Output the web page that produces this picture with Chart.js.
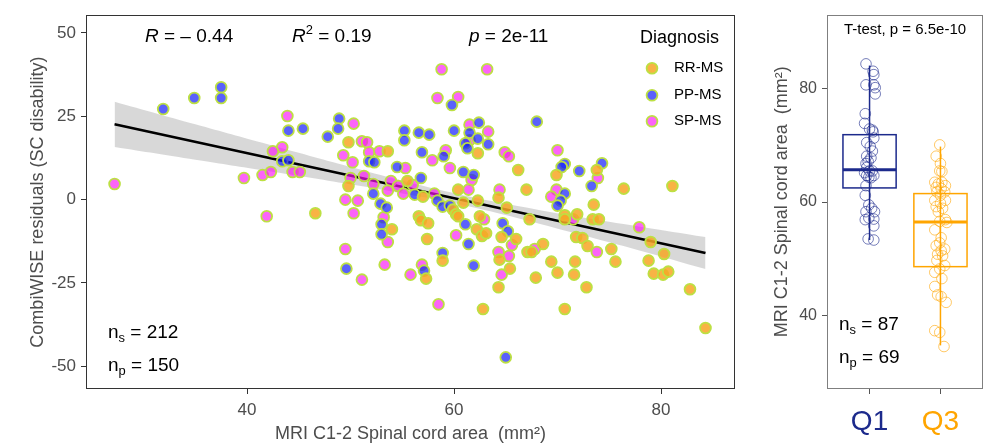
<!DOCTYPE html>
<html><head><meta charset="utf-8">
<script src="https://cdn.jsdelivr.net/npm/chart.js@4.4.1/dist/chart.umd.min.js"></script>
<style>
html,body{margin:0;padding:0;background:#fff;}
#wrap{position:relative;width:996px;height:448px;overflow:hidden;}
#c1{position:absolute;left:0;top:0;}
#c2{position:absolute;left:750px;top:0;}
</style></head><body>
<div id="wrap"><canvas id="c1" width="745" height="448"></canvas><canvas id="c2" width="246" height="448"></canvas></div>
<script>
// ---------- DATA: left scatter (x = C1-2 area mm², y = CombiWISE residual) ----------
const rrmsX = [46.6,49.8,53.6,49.8,54.0,62.3,55.5,57.0,59.9,60.2,60.4,60.9,62.3,64.3,65.1,56.6,56.8,57.5,62.5,62.2,62.7,63.1,57.4,64.6,66.0,64.4,65.4,64.3,58.9,57.3,62.8,69.9,73.8,66.2,67.0,76.4,73.5,67.3,70.7,71.9,70.7,73.4,74.0,71.8,72.4,72.9,75.2,75.6,68.6,67.1,67.5,69.4,71.7,70.0,71.6,67.9,72.8,70.7,81.1,79.0,80.3,78.8,79.3,80.2,80.7,82.8,84.3,60.4];
const rrmsY = [-4.1,17.2,14.5,4.1,-8.9,13.9,5.6,0.9,-3.0,-4.4,3.0,-0.9,-0.3,0.6,-2.4,-5.0,-6.2,-7.1,-5.0,-8.9,-10.9,-10.1,-11.8,-11.2,-11.8,-18.0,-20.7,-26.3,-18.3,-23.7,-32.8,7.4,8.9,8.9,3.0,3.3,-1.5,-5.9,-4.7,-4.4,-5.9,-5.9,-5.9,-11.2,-11.5,-13.9,-14.8,-18.6,-13.3,-15.7,-15.7,-18.6,-18.6,-21.9,-22.5,-23.4,-26.3,-32.8,4.1,-12.7,-16.3,-18.3,-22.2,-22.5,-21.6,-26.9,-38.5,-5.0];
const ppmsX = [31.9,34.9,37.5,37.5,43.4,44.0,44.0,45.4,48.9,48.8,47.8,51.8,52.3,52.2,52.9,53.5,53.0,53.0,49.6,59.8,55.2,55.2,56.6,57.6,60.0,62.4,61.5,61.1,62.3,63.3,61.3,56.9,59.0,60.9,61.9,54.5,56.8,56.2,58.4,58.9,59.6,61.1,61.4,64.7,65.2,58.9,61.9,57.1,65.0,68.0,70.7,70.4,72.1,74.3,73.3,70.7,70.3,70.0];
const ppmsY = [27.2,30.5,33.7,30.5,11.5,11.8,20.7,21.3,24.3,21.3,18.9,11.5,11.2,1.8,-1.2,-2.4,-7.4,-10.4,-20.7,28.4,20.7,17.8,20.1,19.5,20.7,23.1,20.1,16.9,18.3,16.6,15.4,14.2,13.0,8.3,7.4,9.8,6.5,1.5,-0.3,-2.1,-1.8,-7.4,-13.3,-7.1,-9.5,-16.0,-19.8,-21.3,-47.3,23.4,10.7,9.8,8.6,10.9,4.1,1.8,-0.3,-1.8];
const spmsX = [27.2,39.7,41.5,42.3,41.9,43.4,42.5,44.4,45.1,43.9,50.3,51.1,51.6,49.3,50.2,51.8,52.8,51.3,50.0,52.2,53.9,49.5,50.7,50.3,53.2,53.6,49.5,53.3,51.1,53.6,58.4,60.4,58.8,63.2,61.5,63.3,61.5,59.2,57.9,59.6,64.9,65.3,61.7,55.3,54.6,55.1,56.0,58.1,61.4,64.4,62.9,60.2,65.6,64.3,65.3,64.6,56.9,55.8,58.5,70.0,73.9,69.9,69.4,71.5,77.9,73.8,67.8];
const spmsY = [4.7,6.5,7.4,8.3,-5.0,15.7,14.5,8.3,8.3,25.1,22.8,17.5,17.2,13.3,11.2,14.2,14.5,7.1,6.5,4.7,5.6,0.0,-0.3,-4.1,-5.3,-12.7,-14.8,-19.5,-24.0,2.7,30.5,30.8,39.1,39.1,22.5,20.4,17.8,14.8,11.8,9.5,14.2,13.0,5.9,9.5,4.1,1.8,4.4,1.8,3.0,3.0,-5.9,-10.7,-13.6,-15.7,-16.9,-22.5,-19.5,-22.5,-31.4,14.8,6.5,3.0,0.9,-5.9,-8.3,-15.7,-14.8];
// regression fit and its confidence band
const fitX = [27.2, 84.3];
const fitY = [22.6, -16.0];
const bandX = [27.2, 35, 42, 50, 56, 61, 66, 72, 78, 84.3];
const bandHi = [29.4, 22.6, 16.6, 9.8, 4.9, 1.25, -1.8, -5.1, -8.1, -11.2];
const bandLo = [15.8, 12.0, 8.6, 4.6, 1.3, -1.75, -5.4, -10.3, -15.3, -20.8];
const xTicks = [40, 60, 80];
const yTicks = [-50, -25, 0, 25, 50];
const diagnosisLabels = ['RR-MS', 'PP-MS', 'SP-MS'];

// ---------- DATA: right box plot ----------
const groupLabels = ['Q1', 'Q3'];
const groupPos = [1, 2];
const q1PtsX = [0.95,1.05,1.06,0.95,1.06,1.08,1.08,0.94,0.93,1.00,1.04,1.05,1.06,0.96,1.01,1.04,0.96,1.02,0.98,0.95,0.96,1.00,1.04,0.93,0.96,1.06,0.99,1.02,0.95,0.94,0.99,1.03,0.95,1.07,0.99,1.06,0.94,1.06,0.98,1.06];
const q1PtsY = [84.4,83.1,82.5,80.7,80.7,80.2,79.1,75.6,73.9,72.9,72.7,72.4,71.3,70.5,69.8,69.0,68.1,67.8,67.2,66.8,66.1,65.5,65.5,65.2,64.7,64.7,64.4,64.3,62.9,61.2,59.5,58.9,58.3,58.3,57.2,57.0,56.9,55.8,53.5,53.3];
const q3PtsX = [1.99,1.94,2.00,1.99,2.02,1.92,1.97,2.02,2.07,1.94,2.01,1.95,2.06,2.00,1.92,2.07,2.00,1.94,2.03,1.97,2.07,1.99,2.09,1.92,2.01,1.99,1.94,2.06,2.01,1.96,2.03,1.95,2.06,1.99,1.92,2.02,1.92,1.96,2.01,2.08,1.92,1.99,2.05];
const q3PtsY = [70.1,68.1,66.8,65.5,65.4,63.5,63.2,63.5,62.9,62.6,62.4,61.8,61.8,61.2,60.3,60.3,59.8,59.2,58.9,58.3,56.9,56.6,56.4,55.1,53.7,52.8,52.3,51.7,51.4,50.8,50.5,49.7,48.8,48.2,47.6,46.5,45.1,43.6,43.3,42.3,37.3,37.0,34.5];
const boxLow = [53.3, 34.7];
const boxQ1 = [62.5, 48.6];
const boxMed = [65.7, 56.5];
const boxQ3 = [71.9, 61.5];
const boxHigh = [84.1, 69.8];
const yTicksR = [40, 60, 80];

// ---------- styling ----------
const FONT = "'Liberation Sans', Arial, Helvetica, sans-serif";
const GREY = '#4d4d4d';
const NAVY = '#1c2a8c';
const ORANGE = '#ffa500';
const RIM = '#bde043';
const FILLS = ['rgba(247,166,38,0.86)', 'rgba(20,30,250,0.70)', 'rgba(250,20,245,0.66)'];

const zip = (xs, ys) => xs.map((x, i) => ({x, y: ys[i]}));

function drawRich(ctx, x, y, segs, size, align) {
  const parts = segs.map(s => {
    const fs = (s.sup || s.sub) ? size * 0.68 : size;
    const font = (s.italic ? 'italic ' : '') + fs + 'px ' + FONT;
    ctx.font = font;
    return {s, font, w: ctx.measureText(s.t).width, dy: s.sup ? -size * 0.38 : (s.sub ? size * 0.28 : 0)};
  });
  const total = parts.reduce((a, p) => a + p.w, 0);
  let cx = align === 'center' ? x - total / 2 : x;
  ctx.textAlign = 'left';
  ctx.textBaseline = 'middle';
  for (const p of parts) {
    ctx.font = p.font;
    ctx.fillText(p.s.t, cx, y + p.dy);
    cx += p.w;
  }
}

const framePlugin = {
  id: 'frame',
  afterDraw(chart, args, opts) {
    const {ctx, chartArea: a} = chart;
    ctx.save();
    ctx.strokeStyle = opts.color;
    ctx.lineWidth = 1;
    ctx.strokeRect(Math.round(a.left) + 0.5, Math.round(a.top) + 0.5, Math.round(a.right - a.left) - 1, Math.round(a.bottom - a.top) - 1);
    ctx.restore();
  }
};

const leftText = {
  id: 'leftText',
  afterDraw(chart) {
    const {ctx, chartArea: a} = chart;
    ctx.save();
    ctx.fillStyle = '#000';
    const S = 19;
    drawRich(ctx, a.left + 59, a.top + 22, [{t: 'R', italic: true}, {t: ' = \u2013 0.44'}], S);
    drawRich(ctx, a.left + 206, a.top + 22, [{t: 'R', italic: true}, {t: '2', sup: true}, {t: ' = 0.19'}], S);
    drawRich(ctx, a.left + 383, a.top + 22, [{t: 'p', italic: true}, {t: ' = 2e-11'}], S);
    drawRich(ctx, a.left + 22, a.bottom - 56, [{t: 'n'}, {t: 's', sub: true}, {t: ' = 212'}], S);
    drawRich(ctx, a.left + 22, a.bottom - 23, [{t: 'n'}, {t: 'p', sub: true}, {t: ' = 150'}], S);
    // legend
    drawRich(ctx, a.right - 95, a.top + 23, [{t: 'Diagnosis'}], 18);
    const ys = [53, 80, 106];
    diagnosisLabels.forEach((lab, i) => {
      ctx.beginPath();
      ctx.arc(a.right - 83, a.top + ys[i], 5.4, 0, Math.PI * 2);
      ctx.fillStyle = FILLS[i];
      ctx.fill();
      ctx.lineWidth = 1.8;
      ctx.strokeStyle = RIM;
      ctx.stroke();
      ctx.fillStyle = '#000';
      drawRich(ctx, a.right - 61, a.top + ys[i], [{t: lab}], 15);
    });
    ctx.restore();
  }
};

Chart.defaults.font.family = FONT;

const ptStyle = i => ({
  backgroundColor: FILLS[i], borderColor: RIM, borderWidth: 1.8,
  pointRadius: 5.4, pointHoverRadius: 5.4, showLine: false, order: 0
});

new Chart(document.getElementById('c1'), {
  type: 'scatter',
  data: {
    datasets: [
      {label: diagnosisLabels[0], data: zip(rrmsX, rrmsY), ...ptStyle(0)},
      {label: diagnosisLabels[1], data: zip(ppmsX, ppmsY), ...ptStyle(1)},
      {label: diagnosisLabels[2], data: zip(spmsX, spmsY), ...ptStyle(2)},
      {label: 'fit', data: zip(fitX, fitY), showLine: true, pointRadius: 0, borderColor: '#000', borderWidth: 2.6, order: 1},
      {label: 'bandHi', data: zip(bandX, bandHi), showLine: true, pointRadius: 0, borderWidth: 0, borderColor: 'rgba(0,0,0,0)', backgroundColor: 'rgba(153,153,153,0.38)', fill: '+1', tension: 0.4, order: 2},
      {label: 'bandLo', data: zip(bandX, bandLo), showLine: true, pointRadius: 0, borderWidth: 0, borderColor: 'rgba(0,0,0,0)', fill: false, tension: 0.4, order: 2}
    ]
  },
  options: {
    responsive: false, animation: false, events: [],
    layout: {padding: {left: 0, right: 10, top: 11, bottom: 0}},
    plugins: {legend: {display: false}, tooltip: {enabled: false}, frame: {color: '#333'}},
    scales: {
      x: {
        type: 'linear', min: 24.44, max: 87.15,
        afterBuildTicks: s => { s.ticks = xTicks.map(v => ({value: v})); },
        afterFit: s => { s.height = 59; },
        grid: {drawOnChartArea: false, drawTicks: true, tickLength: 5, color: '#333', tickColor: '#333'},
        border: {display: false},
        ticks: {color: GREY, font: {size: 17}, padding: 6, maxRotation: 0, autoSkip: false},
        title: {display: true, text: 'MRI C1-2 Spinal cord area  (mm\u00b2)', color: GREY, font: {size: 18}, padding: {top: 0, bottom: 3}}
      },
      y: {
        type: 'linear', min: -56.8, max: 55.33,
        afterBuildTicks: s => { s.ticks = yTicks.map(v => ({value: v})); },
        afterFit: s => { s.width = 86; },
        grid: {drawOnChartArea: false, drawTicks: true, tickLength: 5, color: '#333', tickColor: '#333'},
        border: {display: false},
        ticks: {color: GREY, font: {size: 17}, padding: 5, autoSkip: false},
        title: {display: true, text: 'CombiWISE residuals (SC disability)', color: GREY, font: {size: 18}, padding: {top: 27, bottom: 0}}
      }
    }
  },
  plugins: [framePlugin, leftText]
});

// ---------- right box plot ----------
const boxPlugin = {
  id: 'boxes',
  beforeDatasetsDraw(chart) {
    const {ctx, scales: {x, y}} = chart;
    const cols = [NAVY, ORANGE];
    ctx.save();
    groupPos.forEach((g, i) => {
      const cx = x.getPixelForValue(g);
      const l = x.getPixelForValue(g - 0.375), r = x.getPixelForValue(g + 0.375);
      ctx.strokeStyle = cols[i];
      ctx.lineWidth = 1.5;
      ctx.beginPath();
      ctx.moveTo(cx, y.getPixelForValue(boxHigh[i]));
      ctx.lineTo(cx, y.getPixelForValue(boxLow[i]));
      ctx.stroke();
      const t = y.getPixelForValue(boxQ3[i]), b = y.getPixelForValue(boxQ1[i]);
      ctx.strokeRect(l, t, r - l, b - t);
      ctx.lineWidth = 3;
      ctx.beginPath();
      const m = y.getPixelForValue(boxMed[i]);
      ctx.moveTo(l, m); ctx.lineTo(r, m);
      ctx.stroke();
    });
    ctx.restore();
  }
};
const rightText = {
  id: 'rightText',
  afterDraw(chart) {
    const {ctx, chartArea: a} = chart;
    ctx.save();
    ctx.fillStyle = '#000';
    drawRich(ctx, (a.left + a.right) / 2, a.top + 15, [{t: 'T-test, p = 6.5e-10'}], 15, 'center');
    drawRich(ctx, a.left + 12, a.bottom - 64, [{t: 'n'}, {t: 's', sub: true}, {t: ' = 87'}], 19);
    drawRich(ctx, a.left + 12, a.bottom - 31, [{t: 'n'}, {t: 'p', sub: true}, {t: ' = 69'}], 19);
    ctx.restore();
  }
};

new Chart(document.getElementById('c2'), {
  type: 'scatter',
  data: {
    datasets: [
      {label: groupLabels[0], data: zip(q1PtsX, q1PtsY), backgroundColor: 'rgba(0,0,0,0)', borderColor: 'rgba(28,42,140,0.6)', borderWidth: 1, pointRadius: 5.3, pointHoverRadius: 5.3},
      {label: groupLabels[1], data: zip(q3PtsX, q3PtsY), backgroundColor: 'rgba(0,0,0,0)', borderColor: 'rgba(255,165,0,0.6)', borderWidth: 1, pointRadius: 5.3, pointHoverRadius: 5.3}
    ]
  },
  options: {
    responsive: false, animation: false, events: [],
    layout: {padding: {left: 0, right: 13, top: 7, bottom: 0}},
    plugins: {legend: {display: false}, tooltip: {enabled: false}, frame: {color: '#7f7f7f'}},
    scales: {
      x: {
        type: 'linear', min: 0.4, max: 2.6,
        afterBuildTicks: s => { s.ticks = groupPos.map(v => ({value: v})); },
        afterFit: s => { s.height = 59; },
        grid: {drawOnChartArea: false, drawTicks: true, tickLength: 5, color: '#555', tickColor: '#555'},
        border: {display: false},
        ticks: {callback: (v) => groupLabels[groupPos.indexOf(v)], color: c => c.index === 0 ? NAVY : ORANGE, font: {size: 28}, padding: 11, maxRotation: 0, autoSkip: false}
      },
      y: {
        type: 'linear', min: 27.0, max: 93.1,
        afterBuildTicks: s => { s.ticks = yTicksR.map(v => ({value: v})); },
        afterFit: s => { s.width = 77; },
        grid: {drawOnChartArea: false, drawTicks: true, tickLength: 5, color: '#555', tickColor: '#555'},
        border: {display: false},
        ticks: {color: GREY, font: {size: 16}, padding: 5, autoSkip: false},
        title: {display: true, text: 'MRI C1-2 Spinal cord area  (mm\u00b2)', color: GREY, font: {size: 18}, padding: {top: 21, bottom: 0}}
      }
    }
  },
  plugins: [framePlugin, boxPlugin, rightText]
});
</script>
</body></html>
